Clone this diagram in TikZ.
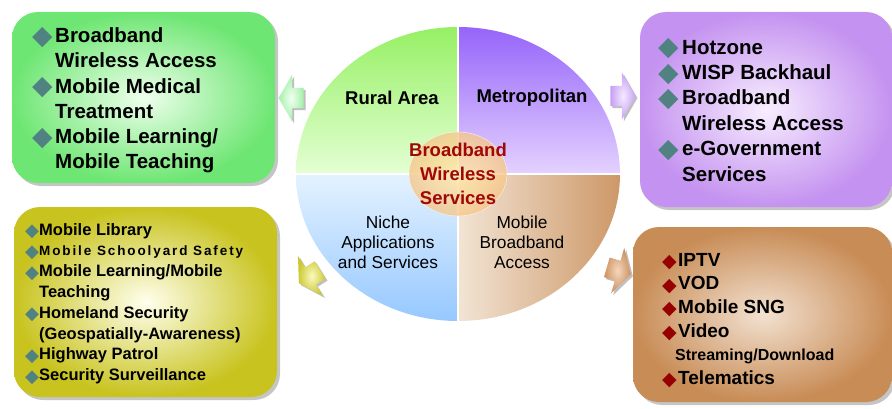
\documentclass[tikz,border=0pt]{standalone}
\usepackage{fontspec}
\setmainfont{Liberation Sans}
\newfontfamily\symfont{DejaVu Sans}
\usepackage{tikz}
\usetikzlibrary{shapes.arrows,shapes.geometric,shadows,positioning}
\definecolor{ruralrim}{RGB}{110,230,115}
\definecolor{ruralmid}{RGB}{238,255,236}
\definecolor{metrorim}{RGB}{196,146,240}
\definecolor{metromid}{RGB}{248,238,255}
\definecolor{nicherim}{RGB}{200,195,30}
\definecolor{nichemid}{RGB}{255,255,238}
\definecolor{mobilerim}{RGB}{200,140,86}
\definecolor{mobilemid}{RGB}{242,225,208}
\definecolor{bulteal}{RGB}{80,130,130}
\definecolor{bulred}{RGB}{150,0,0}
\definecolor{corered}{RGB}{160,8,8}
\tikzstyle{panel}=[rectangle,rounded corners=26pt,inner sep=0pt,shading=radial,drop shadow={shadow xshift=3pt,shadow yshift=-3pt,fill=black!45}]
\tikzstyle{pointer}=[single arrow,inner xsep=0pt,inner ysep=10pt,minimum height=25pt,single arrow head extend=13.5pt,single arrow tip angle=120,shading=radial,drop shadow={shadow xshift=2pt,shadow yshift=-2pt,fill=black!50}]
\tikzstyle{listing}=[anchor=north west,inner sep=0pt,align=left]
\tikzstyle{sector}=[inner sep=0pt,align=center]
\newcommand{\bul}[3][1.3]{\makebox[#2][l]{\color{#3}\symfont\raisebox{-0.08em}{\scalebox{#1}{◆}}}}

\begin{document}
\begin{tikzpicture}[x=1pt,y=1pt]
\useasboundingbox (0,0) rectangle (892,408);
% boxes
\node [panel,inner color=ruralmid,outer color=ruralrim,minimum width=263pt,minimum height=171pt] (ruralbox) at (143.5,310.5) {};
\node [panel,inner color=metromid,outer color=metrorim,minimum width=252pt,minimum height=195pt] (metrobox) at (766,298.5) {};
\node [panel,inner color=nichemid,outer color=nicherim,minimum width=263pt,minimum height=190pt] (nichebox) at (145.5,106) {};
\node [panel,inner color=mobilemid,outer color=mobilerim,minimum width=259pt,minimum height=175pt] (mobilebox) at (762.5,93.5) {};
% pie
\coordinate (c) at (458,234);
\shade [top color={rgb,255:red,150;green,240;blue,100},bottom color={rgb,255:red,228;green,255;blue,212}] (c) -- ++(-162,0) arc [start angle=180,end angle=90,x radius=162,y radius=147] -- cycle;
\shade [top color={rgb,255:red,150;green,100;blue,250},bottom color={rgb,255:red,228;green,210;blue,255}] (c) -- ++(0,147) arc [start angle=90,end angle=0,x radius=162,y radius=147] -- cycle;
\shade [top color={rgb,255:red,228;green,242;blue,255},bottom color={rgb,255:red,150;green,200;blue,255}] (c) -- ++(-162,0) arc [start angle=180,end angle=270,x radius=162,y radius=147] -- cycle;
\shade [left color={rgb,255:red,242;green,228;blue,212},right color={rgb,255:red,205;green,152;blue,104}] (c) -- ++(0,-147) arc [start angle=270,end angle=360,x radius=162,y radius=147] -- cycle;
\draw [white,line width=1.5pt] (c) ++(-162,0) -- ++(324,0);
\draw [white,line width=1.5pt] (c) ++(0,-147) -- ++(0,294);
\node [ellipse,draw=white,inner sep=0pt,minimum width=98pt,minimum height=84pt,shading=radial,inner color={rgb,255:red,255;green,232;blue,165},outer color={rgb,255:red,245;green,198;blue,140},opacity=0.8] (disc) at (c) {};
\node [sector,text=corered,font=\fontsize{18.5}{24}\selectfont\bfseries] (core) at (c) {Broadband\\Wireless\\Services};
\node [sector,font=\fontsize{18.5}{22}\selectfont\bfseries] (rural) at (392,310) {Rural Area};
\node [sector,font=\fontsize{18.5}{22}\selectfont\bfseries] (metro) at (532,310) {Metropolitan};
\node [sector,font=\fontsize{17.3}{20}\selectfont] (niche) at (388,166) {Niche\\Applications\\and Services};
\node [sector,font=\fontsize{17.3}{20}\selectfont] (mobile) at (522,166) {Mobile\\Broadband\\Access};
% arrows
\node [pointer,rotate=180,inner color={rgb,255:red,240;green,255;blue,240},outer color={rgb,255:red,165;green,240;blue,170}] (ruralarr) at (294,310) {};
\node [pointer,inner color={rgb,255:red,245;green,235;blue,255},outer color={rgb,255:red,200;green,160;blue,245}] (metroarr) at (620,312) {};
\node [pointer,rotate=212,inner color={rgb,255:red,250;green,250;blue,190},outer color={rgb,255:red,205;green,200;blue,50}] (nichearr) at (312,133) {};
\node [pointer,rotate=-16,inner color={rgb,255:red,245;green,215;blue,190},outer color={rgb,255:red,205;green,145;blue,95}] (mobilearr) at (616,138) {};
% lists
\node [listing,font=\fontsize{20.5}{25.2}\selectfont\bfseries] (rurallist) at (32,381) {\bul{23pt}{bulteal}Broadband\\\hspace*{23pt}Wireless Access\\\bul{23pt}{bulteal}Mobile Medical\\\hspace*{23pt}Treatment\\\bul{23pt}{bulteal}Mobile Learning/\\\hspace*{23pt}Mobile Teaching};
\node [listing,font=\fontsize{20.5}{25.4}\selectfont\bfseries] (metrolist) at (658,369.5) {\bul{24pt}{bulteal}Hotzone\\\bul{24pt}{bulteal}WISP Backhaul\\\bul{24pt}{bulteal}Broadband\\\hspace*{24pt}Wireless Access\\\bul{24pt}{bulteal}e-Government\\\hspace*{24pt}Services};
\node [listing,font=\fontsize{16.5}{20.8}\selectfont\bfseries] (nichelist) at (25,185) {\bul[1.1]{14pt}{bulteal}Mobile Library\\\bul[1.1]{14pt}{bulteal}{\fontsize{13.5}{20.8}\selectfont\addfontfeature{LetterSpace=14}Mobile Schoolyard Safety}\\\bul[1.1]{14pt}{bulteal}Mobile Learning/Mobile\\\hspace*{14pt}Teaching\\\bul[1.1]{14pt}{bulteal}Homeland Security\\\hspace*{14pt}(Geospatially-Awareness)\\\bul[1.1]{14pt}{bulteal}Highway Patrol\\\bul[1.1]{14pt}{bulteal}Security Surveillance};
\node [listing,font=\fontsize{19}{23.6}\selectfont\bfseries] (mobilelist) at (662,155) {\bul[1]{16pt}{bulred}IPTV\\\bul[1]{16pt}{bulred}VOD\\\bul[1]{16pt}{bulred}Mobile SNG\\\bul[1]{16pt}{bulred}Video\\\hspace*{13pt}{\fontsize{16}{23.6}\selectfont Streaming/Download}\\\bul[1]{16pt}{bulred}Telematics};
\end{tikzpicture}
\end{document}
